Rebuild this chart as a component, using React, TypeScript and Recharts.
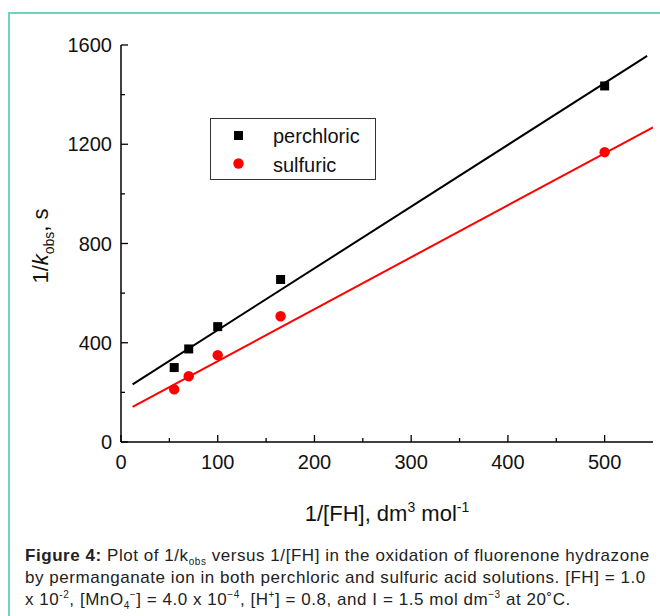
import {
  ComposedChart,
  Scatter,
  Line,
  XAxis,
  YAxis,
  Legend,
} from "recharts";

const fhInverse = [55, 70, 100, 165, 500];
const perchloricValues = [300, 375, 465, 655, 1435];
const sulfuricValues = [212, 265, 350, 507, 1168];

// least-squares lines as drawn (end points)
const perchloricFitX = [12, 544];
const perchloricFitY = [232, 1556];
const sulfuricFitX = [12, 550];
const sulfuricFitY = [142, 1268];

const xTicks = [0, 50, 100, 150, 200, 250, 300, 350, 400, 450, 500];
const yTicks = [0, 200, 400, 600, 800, 1000, 1200, 1400, 1600];
const xLabelled = [0, 100, 200, 300, 400, 500];
const yLabelled = [0, 400, 800, 1200, 1600];

const perchloric = fhInverse.map((x, i) => ({ x, y: perchloricValues[i] }));
const sulfuric = fhInverse.map((x, i) => ({ x, y: sulfuricValues[i] }));
const perchloricFit = perchloricFitX.map((x, i) => ({ x, y: perchloricFitY[i] }));
const sulfuricFit = sulfuricFitX.map((x, i) => ({ x, y: sulfuricFitY[i] }));

const FONT = "'Liberation Sans', Arial, Helvetica, sans-serif";

// ticks point inward, like the Origin plot
const BottomTick = (props: any) => {
  const { x, y, payload } = props;
  const major = xLabelled.includes(payload.value);
  return (
    <g>
      <line x1={x} y1={y} x2={x} y2={y - (major ? 7 : 4)} stroke="#000" strokeWidth={1.3} />
      {major && (
        <text x={x} y={y + 27} textAnchor="middle" fontSize={20} fill="#111" fontFamily={FONT}>
          {payload.value}
        </text>
      )}
    </g>
  );
};

const TopTick = (props: any) => {
  const { x, y, payload } = props;
  const major = xLabelled.includes(payload.value);
  return <line x1={x} y1={y} x2={x} y2={y + (major ? 7 : 4)} stroke="#000" strokeWidth={1.3} />;
};

const LeftTick = (props: any) => {
  const { x, y, payload } = props;
  const major = yLabelled.includes(payload.value);
  return (
    <g>
      <line x1={x} y1={y} x2={x + (major ? 7 : 4)} y2={y} stroke="#000" strokeWidth={1.3} />
      {major && (
        <text x={x - 9} y={y + 7} textAnchor="end" fontSize={20} fill="#111" fontFamily={FONT}>
          {payload.value}
        </text>
      )}
    </g>
  );
};

const RightTick = (props: any) => {
  const { x, y, payload } = props;
  const major = yLabelled.includes(payload.value);
  return <line x1={x} y1={y} x2={x - (major ? 7 : 4)} y2={y} stroke="#000" strokeWidth={1.3} />;
};

const SquareDot = (props: any) => {
  const { cx, cy } = props;
  return <rect x={cx - 4.5} y={cy - 4.5} width={9} height={9} fill="#000" />;
};

const RoundDot = (props: any) => {
  const { cx, cy } = props;
  return <circle cx={cx} cy={cy} r={5.2} fill="#ff0000" />;
};

const XTitle = (props: any) => {
  const { viewBox } = props;
  const cx = viewBox.x + viewBox.width / 2;
  return (
    <text x={cx} y={521} textAnchor="middle" fontSize={22} fill="#111" fontFamily={FONT}>
      1/[FH], dm
      <tspan dy={-9} fontSize={14}>3</tspan>
      <tspan dy={9}> mol</tspan>
      <tspan dy={-9} fontSize={14}>-1</tspan>
    </text>
  );
};

const YTitle = () => (
  <text
    x={0}
    y={0}
    transform="translate(48 246) rotate(-90)"
    textAnchor="middle"
    fontSize={22}
    fill="#111"
    fontFamily={FONT}
  >
    1/<tspan fontStyle="italic">k</tspan>
    <tspan dy={6} fontSize={14}>obs</tspan>
    <tspan dy={-6}>, s</tspan>
  </text>
);

const LegendBox = () => (
  <div
    style={{
      width: 164,
      height: 60,
      border: "1px solid #333",
      background: "#fff",
      fontFamily: FONT,
      fontSize: 20,
      color: "#111",
      position: "relative",
    }}
  >
    <svg width={20} height={60} style={{ position: "absolute", left: 18, top: 0 }}>
      <rect x={5} y={12} width={9} height={9} fill="#000" />
      <circle cx={9.5} cy={44.5} r={5.2} fill="#ff0000" />
    </svg>
    <div style={{ position: "absolute", left: 62, top: 5, lineHeight: "24px" }}>perchloric</div>
    <div style={{ position: "absolute", left: 62, top: 34, lineHeight: "24px" }}>sulfuric</div>
  </div>
);

const small = { fontSize: 10, lineHeight: 0 };

export default function App() {
  return (
    <div
      style={{
        position: "absolute",
        left: 0,
        top: 0,
        width: 660,
        height: 616,
        overflow: "hidden",
        background: "#fff",
      }}
    >
      <div
        style={{
          position: "absolute",
          left: 8,
          top: 12,
          width: 700,
          height: 700,
          border: "2px solid #6fd3c2",
          boxSizing: "border-box",
        }}
      />
      <div style={{ position: "absolute", left: 0, top: 0 }}>
        <ComposedChart
          width={660}
          height={616}
          margin={{ top: 45, right: 7, bottom: 144, left: 61 }}
        >
          <XAxis
            dataKey="x"
            type="number"
            domain={[0, 550]}
            ticks={xTicks}
            interval={0}
            tickSize={0}
            tickMargin={0}
            tick={<BottomTick />}
            axisLine={{ stroke: "#000", strokeWidth: 1.5 }}
            height={30}
            allowDataOverflow
            label={<XTitle />}
          />
          <XAxis
            xAxisId="top"
            orientation="top"
            type="number"
            domain={[0, 550]}
            ticks={xTicks}
            interval={0}
            tickSize={0}
            tickMargin={0}
            tick={<TopTick />}
            axisLine={{ stroke: "#000", strokeWidth: 1.5 }}
            height={0}
            allowDataOverflow
          />
          <YAxis
            type="number"
            domain={[0, 1600]}
            ticks={yTicks}
            interval={0}
            tickSize={0}
            tickMargin={0}
            tick={<LeftTick />}
            axisLine={{ stroke: "#000", strokeWidth: 1.5 }}
            width={60}
            allowDataOverflow
            label={<YTitle />}
          />
          <YAxis
            yAxisId="right"
            orientation="right"
            type="number"
            domain={[0, 1600]}
            ticks={yTicks}
            interval={0}
            tickSize={0}
            tickMargin={0}
            tick={<RightTick />}
            axisLine={{ stroke: "#000", strokeWidth: 1.5 }}
            width={0}
            allowDataOverflow
          />
          <Line
            data={perchloricFit}
            dataKey="y"
            type="linear"
            stroke="#000"
            strokeWidth={2}
            dot={false}
            activeDot={false}
            legendType="none"
            isAnimationActive={false}
          />
          <Line
            data={sulfuricFit}
            dataKey="y"
            type="linear"
            stroke="#ff0000"
            strokeWidth={2}
            dot={false}
            activeDot={false}
            legendType="none"
            isAnimationActive={false}
          />
          <Scatter
            name="perchloric"
            data={perchloric}
            dataKey="y"
            shape={<SquareDot />}
            isAnimationActive={false}
          />
          <Scatter
            name="sulfuric"
            data={sulfuric}
            dataKey="y"
            shape={<RoundDot />}
            isAnimationActive={false}
          />
          {/* vertical + center + middle keeps the legend from eating plot space */}
          <Legend
            layout="vertical"
            align="center"
            verticalAlign="middle"
            content={<LegendBox />}
            wrapperStyle={{ position: "absolute", left: 210, top: 118, width: 166 }}
          />
        </ComposedChart>
      </div>
      <div
        style={{
          position: "absolute",
          left: 25,
          top: 545,
          width: 650,
          fontFamily: FONT,
          fontSize: 17,
          letterSpacing: 0.55,
          lineHeight: "22px",
          color: "#222",
          whiteSpace: "nowrap",
        }}
      >
        <div>
          <b>Figure 4:</b> Plot of 1/k<sub style={small}>obs</sub> versus 1/[FH] in the oxidation of fluorenone hydrazone
        </div>
        <div>by permanganate ion in both perchloric and sulfuric acid solutions. [FH] = 1.0</div>
        <div>
          x 10<sup style={small}>-2</sup>, [MnO<sub style={small}>4</sub>
          <sup style={small}>−</sup>] = 4.0 x 10<sup style={small}>−4</sup>, [H
          <sup style={small}>+</sup>] = 0.8, and I = 1.5 mol dm<sup style={small}>−3</sup> at 20˚C.
        </div>
      </div>
    </div>
  );
}
